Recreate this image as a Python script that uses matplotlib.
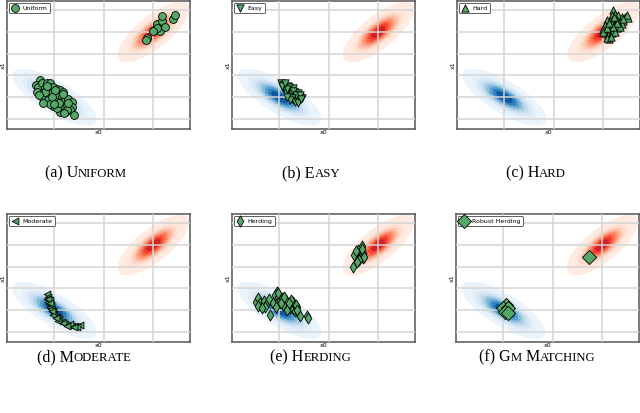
import numpy as np
import matplotlib
matplotlib.use("Agg")
from matplotlib import pyplot as plt

# density parameters (mean, std x, std y, correlation)
blue_mean = (-2.0, -3.0)
blue_std = (0.66, 1.02)
blue_rho = -0.77
red_mean = (2.0, 3.0)
red_std = (0.56, 1.08)
red_rho = 0.76

uniform_x = [-2.58, -2.74, -2.65, -2.52, -2.31, -2.18, -2.38, -2.25, -2.04, -1.91, -1.77, -1.64,
             -2.52, -2.31, -2.11, -1.98, -1.84, -1.71, -2.72, -2.45, -2.25, -2.04, -1.91, -1.71,
             -1.57, -1.44, -1.30, -2.04, -1.84, -1.64, -1.50, -1.30, -1.77, -1.57, -1.37, -1.23,
             -2.18, -1.98, -2.38, -2.61, -1.50, -1.91, -2.11, -2.47, -1.67, -1.44, -2.31, -1.80,
             -2.02, -1.61,
             1.73, 1.70, 2.03, 2.14, 2.27, 2.34, 2.36, 2.45, 2.81, 2.88, 2.14, 1.97]
uniform_y = [-1.43, -1.89, -2.10, -1.73, -1.73, -1.67, -2.19, -2.29, -2.10, -2.29, -2.35, -2.50,
             -2.65, -2.81, -2.65, -2.81, -2.96, -2.96, -2.50, -3.12, -3.27, -3.27, -3.42, -3.42,
             -3.27, -3.21, -3.42, -3.82, -3.88, -3.88, -3.73, -3.88, -4.34, -4.34, -4.19, -4.65,
             -3.64, -2.35, -2.50, -2.81, -4.19, -4.04, -2.96, -3.51, -2.75, -3.58, -1.98, -3.58,
             -3.64, -4.44,
             2.42, 2.26, 3.18, 3.74, 3.12, 4.04, 4.47, 3.49, 4.17, 4.57, 3.34, 3.12]

easy_x = [-1.93, -1.84, -1.87, -1.73, -1.64, -1.77, -1.68, -1.57, -1.46, -1.37, -1.27, -1.19,
          -1.10, -1.30, -1.44, -1.54, -1.64, -1.73, -1.50, -1.37, -1.23, -1.60, -1.81, -1.68,
          -1.44, -1.33, -1.17, -1.50, -1.36, -1.57, -1.71, -1.89, -1.76, -1.27, -1.14]
easy_y = [-1.67, -1.89, -2.19, -2.10, -1.98, -2.41, -2.50, -2.35, -2.19, -2.50, -2.65, -3.02,
          -3.12, -3.21, -3.27, -3.02, -2.81, -2.65, -2.72, -2.96, -3.27, -2.10, -2.04, -2.29,
          -2.41, -2.81, -2.81, -3.12, -3.42, -3.27, -2.96, -1.98, -1.73, -3.52, -3.21]

hard_x = [2.40, 2.33, 2.47, 2.60, 2.74, 2.87, 3.01, 2.13, 2.26, 2.40, 2.53, 2.67, 2.80, 2.06,
          2.20, 2.33, 2.47, 2.60, 2.74, 1.99, 2.13, 2.26, 2.40, 2.53, 2.67, 2.06, 2.20, 2.33,
          2.47, 2.24, 2.13, 2.29, 1.97, 2.53, 2.37, 2.16, 2.94, 2.78, 2.43, 2.21]
hard_y = [5.03, 4.57, 4.66, 4.57, 4.41, 4.35, 4.26, 4.11, 4.04, 4.17, 4.11, 3.95, 4.04, 3.65,
          3.55, 3.74, 3.65, 3.55, 3.74, 3.25, 3.12, 3.18, 3.25, 3.34, 3.43, 2.88, 2.72, 2.88,
          3.03, 2.32, 2.42, 2.57, 3.03, 3.86, 3.49, 3.37, 4.57, 4.17, 4.35, 3.86]

moderate_x = [-2.29, -2.25, -2.31, -2.27, -2.22, -2.18, -2.14, -2.07, -2.00, -1.91, -1.80, -1.71,
              -1.57, -1.44, -1.30, -1.17, -0.96, -2.20, -2.15, -2.04, -1.84, -1.64, -1.37, -1.07,
              -2.26, -2.11, -1.94, -1.50, -1.23, -2.18]
moderate_y = [-1.52, -1.76, -2.01, -2.22, -2.44, -2.68, -2.93, -3.14, -3.36, -3.61, -3.85, -4.07,
              -4.28, -4.40, -4.47, -4.47, -4.40, -2.07, -2.53, -3.45, -3.97, -4.16, -4.28, -4.53,
              -1.95, -3.05, -3.76, -4.47, -4.59, -2.31]

herding_x = [-2.95, -2.86, -2.79, -2.68, -2.63, -2.52, -2.41, -2.59, -2.38, -2.88, -2.72, -2.25,
             -2.11, -2.18, -2.05, -1.98, -1.91, -1.84, -1.78, -1.71, -1.64, -1.57, -1.51, -1.44,
             -1.37, -1.31, -1.24, -1.17, -1.47, -1.55, -1.74, -1.87, -1.68, -1.33, -0.87, -0.83,
             -2.14, -1.95, -1.60, -1.28, -1.82, -2.05,
             1.32, 1.19, 1.12, 1.09, 1.01, 1.26, 1.36, 1.39, 1.23, 1.12, 0.99, 1.32, 1.42, 1.08]
herding_y = [-2.22, -1.92, -2.38, -2.53, -2.13, -2.38, -2.01, -2.75, -3.45, -2.62, -2.84, -2.38,
             -1.30, -1.61, -1.76, -2.07, -1.92, -2.22, -2.38, -2.53, -2.69, -2.84, -2.69, -2.93,
             -3.05, -2.69, -3.30, -3.55, -2.22, -2.07, -2.07, -2.53, -2.99, -2.53, -3.55, -3.76,
             -2.69, -2.38, -2.38, -2.99, -1.76, -1.46,
             2.91, 2.54, 2.23, 1.92, 2.08, 1.92, 1.77, 2.23, 1.62, 1.46, 0.94, 2.60, 1.92, 2.48]

robust_x = [-1.89, -2.03, -1.80, -1.93, -1.80, 1.46]
robust_y = [-2.53, -2.84, -2.84, -3.14, -3.24, 1.86]

panels = [
    ("Uniform", "a", uniform_x, uniform_y, "o", 32),
    ("Easy", "b", easy_x, easy_y, "v", 28),
    ("Hard", "c", hard_x, hard_y, "^", 28),
    ("Moderate", "d", moderate_x, moderate_y, "<", 24),
    ("Herding", "e", herding_x, herding_y, "d", 32),
    ("Robust Herding", "f", robust_x, robust_y, "D", 52),
]
panel_lefts = [7, 232, 457, 7, 232, 456]
panel_tops = [1, 1, 1, 214, 214, 214]
caption_x = [86, 311, 536, 84, 311, 537]
caption_y = [173, 173, 173, 357, 357, 357]
green = "#55a868"

W, H = 640, 413
fig = plt.figure(figsize=(6.4, 4.13), dpi=100)

gx = np.linspace(-3.92, 3.48, 300)
gy = np.linspace(-5.94, 5.86, 300)
GX, GY = np.meshgrid(gx, gy)


def gauss(mean, std, rho):
    dx = (GX - mean[0]) / std[0]
    dy = (GY - mean[1]) / std[1]
    q = (dx ** 2 - 2 * rho * dx * dy + dy ** 2) / (1 - rho ** 2)
    return np.exp(-q / 2)


blue_d = gauss(blue_mean, blue_std, blue_rho)
red_d = gauss(red_mean, red_std, red_rho)
levels = list(np.linspace(0.04, 1, 10))
levels[-1] = 1.01
shade = np.linspace(0, 1, 9) ** 1.5

for i, (name, letter, xs, ys, marker, size) in enumerate(panels):
    ax = fig.add_axes([panel_lefts[i] / W, 1 - (panel_tops[i] + 128) / H, 183 / W, 128 / H])
    ax.contourf(GX, GY, blue_d, levels=levels,
                colors=plt.cm.Blues(0.06 + 0.78 * shade), zorder=1)
    ax.contourf(GX, GY, red_d, levels=levels,
                colors=plt.cm.Reds(0.06 + 0.66 * shade), zorder=1)
    ax.scatter(xs, ys, marker=marker, s=size, c=green, edgecolors="black",
               linewidths=0.6, zorder=3, label=name)
    ax.set_xlim(-3.92, 3.48)
    ax.set_ylim(-5.94, 5.86)
    ax.set_xticks([-2, 0, 2])
    ax.set_yticks([-5, -3, -1, 1, 3, 5])
    ax.tick_params(length=0, labelbottom=False, labelleft=False)
    ax.grid(True, color="#d4d4d4", linewidth=1.1, zorder=2)
    ax.set_axisbelow(False)
    for sp in ax.spines.values():
        sp.set_color("#555555")
        sp.set_linewidth(1.1)
    ax.set_xlabel("x0", fontsize=4.5, labelpad=1)
    ax.set_ylabel("x1", fontsize=4.5, labelpad=1)
    leg = ax.legend(loc="upper left", fontsize=4.5, handletextpad=0.6, borderpad=0.4,
                    handlelength=1.2, framealpha=1, borderaxespad=0.3)
    leg.get_frame().set_edgecolor("#444444")
    leg.get_frame().set_linewidth(0.6)

    # caption in small caps
    t1 = fig.text(0, 1 - caption_y[i] / H, f"({letter}) {name[0]}",
                  family="Liberation Serif", fontsize=11.5, va="center")
    rest = name[1:].upper()
    if letter == "f":
        t1.set_text("(f) G")
        rest = "M M"
    t2 = fig.text(0, 0, rest, family="Liberation Serif", fontsize=9.2)
    t1._small = (t2, letter == "f")

renderer = fig.canvas.get_renderer()
for t in list(fig.texts):
    if not hasattr(t, "_small"):
        continue
    t2, is_f = t._small
    idx = "abcdef".index(t.get_text()[1])
    if is_f:
        # "(f) GM MATCHING": G + M, space, M + ATCHING
        t2.set_text("M")
        t3 = fig.text(0, 0, " M", family="Liberation Serif", fontsize=11.5)
        t4 = fig.text(0, 0, "ATCHING", family="Liberation Serif", fontsize=9.2)
        parts = [t, t2, t3, t4]
    else:
        parts = [t, t2]
    widths = [p.get_window_extent(renderer).width for p in parts]
    x = caption_x[idx] - sum(widths) / 2
    base = 1 - caption_y[idx] / H - 4.2 / H
    for p, w in zip(parts, widths):
        p.set_position((x / W, base))
        p.set_va("baseline")
        x += w

fig.savefig("out.png", dpi=100)
